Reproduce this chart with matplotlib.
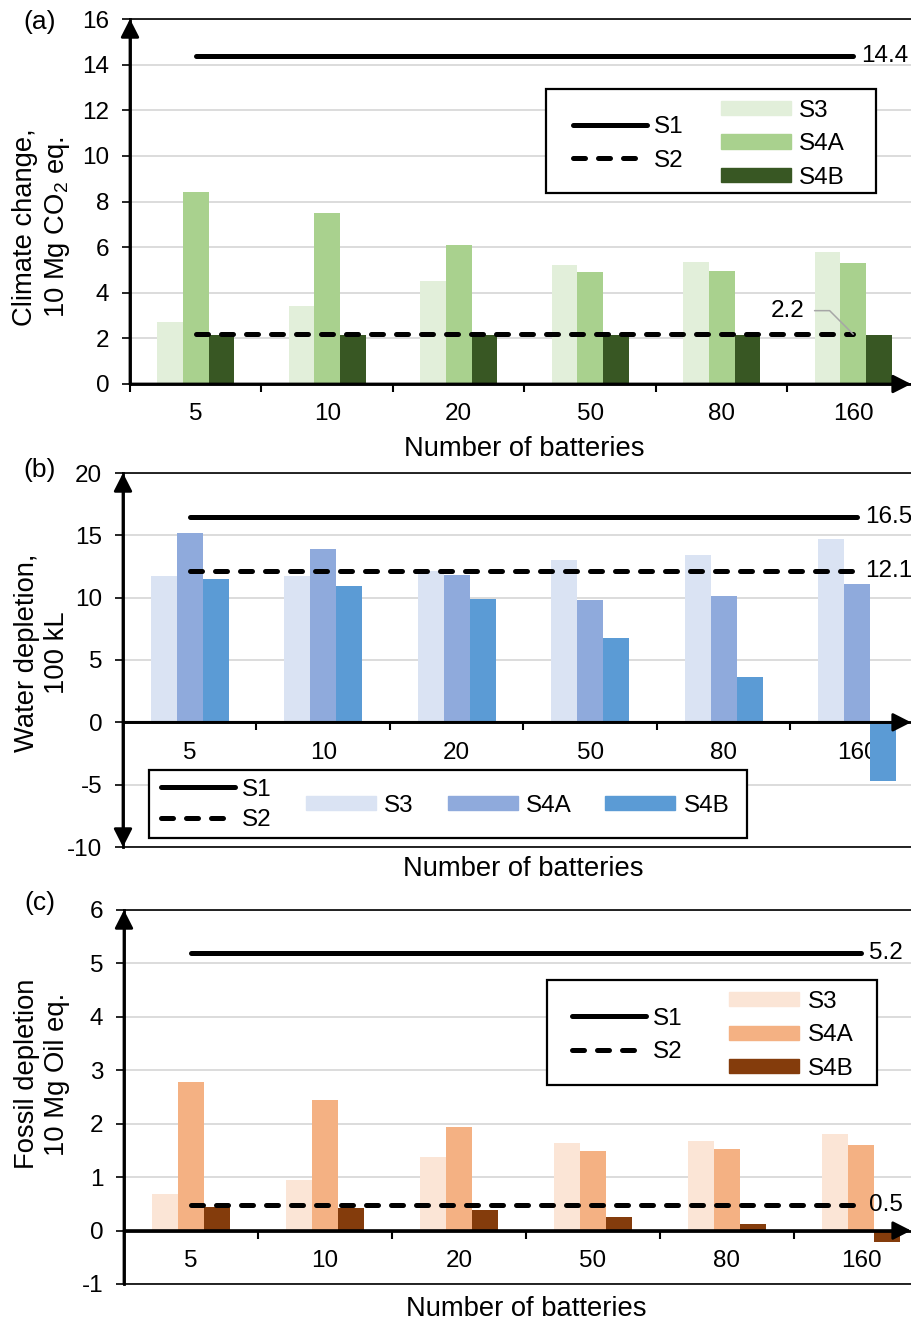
import matplotlib
matplotlib.use('Agg')
import numpy as np
import matplotlib.pyplot as plt
from matplotlib.lines import Line2D
from matplotlib.patches import Patch, Rectangle

plt.rcParams['font.family'] = 'Liberation Sans'
plt.rcParams['mathtext.fontset'] = 'custom'
plt.rcParams['mathtext.rm'] = 'Liberation Sans'
plt.rcParams['axes.unicode_minus'] = False
FS = 17.5    # ticks, legend, value labels
FL = 19.7    # axis titles

########## data ##########
batteries = ['5', '10', '20', '50', '80', '160']

# (a) climate change, 10 Mg CO2 eq.
cc_s1 = 14.4
cc_s2 = 2.18
cc_s3 = [2.7, 3.4, 4.5, 5.2, 5.35, 5.8]
cc_s4a = [8.4, 7.5, 6.1, 4.9, 4.95, 5.3]
cc_s4b = [2.15, 2.15, 2.15, 2.15, 2.15, 2.15]

# (b) water depletion, 100 kL
wd_s1 = 16.5
wd_s2 = 12.1
wd_s3 = [11.7, 11.75, 12.1, 13.0, 13.4, 14.7]
wd_s4a = [15.2, 13.9, 11.8, 9.8, 10.1, 11.1]
wd_s4b = [11.5, 10.9, 9.9, 6.8, 3.6, -4.7]

# (c) fossil depletion, 10 Mg oil eq.
fd_s1 = 5.2
fd_s2 = 0.48
fd_s3 = [0.68, 0.94, 1.38, 1.63, 1.68, 1.80]
fd_s4a = [2.78, 2.45, 1.93, 1.49, 1.52, 1.60]
fd_s4b = [0.44, 0.42, 0.38, 0.26, 0.12, -0.22]

greens = ['#E2EFDA', '#A9D18E', '#385723']
blues = ['#DAE3F3', '#8FAADC', '#5B9BD5']
browns = ['#FBE5D6', '#F4B183', '#843C0C']

LW = 3.6
DASH = (2.4, 2.6)
W, H = 912, 1321


def panel(fig, px_rect, s1, s2, s3, s4a, s4b, colors, ylim, ystep, ylabel, lab_xy, xlab_y, both_arrows=False):
    l, t, r, b = px_rect
    ax = fig.add_axes([l / W, 1 - b / H, (r - l) / W, (b - t) / H])
    x = np.arange(len(batteries))
    w = 0.195
    ax.bar(x - w, s3, w, color=colors[0], zorder=2)
    ax.bar(x, s4a, w, color=colors[1], zorder=2)
    ax.bar(x + w, s4b, w, color=colors[2], zorder=2)
    ax.plot([x[0], x[-1]], [s1, s1], color='k', lw=LW, solid_capstyle='round', zorder=3)
    ax.plot([x[0], x[-1]], [s2, s2], color='k', lw=LW, dashes=DASH, dash_capstyle='round', zorder=3)
    ax.annotate('%.1f' % s1, xy=(x[-1], s1), xytext=(5.5, 0), textcoords='offset points',
                ha='left', va='center', fontsize=FS)

    ax.set_xlim(-0.5, len(batteries) - 0.5)
    ax.set_ylim(ylim)
    ax.set_yticks(np.arange(ylim[0], ylim[1] + ystep / 2, ystep))
    ax.set_xticks(x)
    ax.set_xticklabels(batteries)
    ax.set_xticks(np.arange(-0.5, len(batteries), 1), minor=True)
    ax.tick_params(axis='x', which='major', length=0, pad=14, labelsize=FS)
    ax.tick_params(axis='x', which='minor', length=6, width=1.5, direction='out')
    ax.tick_params(axis='y', length=6, width=1.2, pad=9, labelsize=FS)
    ax.yaxis.grid(True, color='#D9D9D9', lw=1.3)
    ax.set_axisbelow(True)

    # plot area border + axes through zero
    for s in ['top', 'right']:
        ax.spines[s].set_linewidth(1.2)
    ax.spines['left'].set_linewidth(2)
    ax.spines['bottom'].set_position(('data', 0))
    ax.spines['bottom'].set_linewidth(2)
    ax.axhline(ylim[0], color='k', lw=1.2, clip_on=False, zorder=1)
    head = '-|>,head_length=0.55,head_width=0.28'
    ystyle = '<|-|>,head_length=0.55,head_width=0.28' if both_arrows else head
    ax.annotate('', xy=(0, 1), xytext=(0, 0), xycoords='axes fraction',
                arrowprops=dict(arrowstyle=ystyle, color='k', lw=2, shrinkA=0, shrinkB=0, mutation_scale=20))
    ax.annotate('', xy=(0.999, 0), xycoords=('figure fraction', 'data'),
                xytext=(0, 0), textcoords=('axes fraction', 'data'),
                arrowprops=dict(arrowstyle=head, color='k', lw=2, shrinkA=0, shrinkB=0, mutation_scale=20))

    ax.text(lab_xy[0], lab_xy[1], ylabel, transform=ax.transAxes, rotation=90,
            ha='center', va='center', multialignment='center', fontsize=FL, linespacing=1.24)
    ax.text(0.5, xlab_y, 'Number of batteries', transform=ax.transAxes,
            ha='center', va='center', fontsize=FL)
    return ax


def line_handles():
    return [Line2D([], [], color='k', lw=LW, solid_capstyle='round'),
            Line2D([], [], color='k', lw=LW, dashes=DASH, dash_capstyle='round')]


def box(ax, x0, y0, x1, y1):
    ax.add_patch(Rectangle((x0, y0), x1 - x0, y1 - y0, transform=ax.transAxes,
                           facecolor='white', edgecolor='k', lw=1.6, zorder=4, clip_on=False))


def boxed_legend(ax, colors, frame, lx, pxl, yc):
    box(ax, *frame)
    leg1 = ax.legend(line_handles(), ['S1', 'S2'], loc='center left', bbox_to_anchor=(lx, yc),
                     frameon=False, borderpad=0, borderaxespad=0, handlelength=3.05,
                     handletextpad=0.29, labelspacing=0.47, fontsize=FS)
    ax.add_artist(leg1)
    ax.legend([Patch(color=c) for c in colors], ['S3', 'S4A', 'S4B'], loc='center left',
              bbox_to_anchor=(pxl, yc), frameon=False, borderpad=0, borderaxespad=0,
              handlelength=2.88, handleheight=0.53, handletextpad=0.33, labelspacing=0.47,
              fontsize=FS)


fig = plt.figure(figsize=(W / 100, H / 100), dpi=100)

##### (a) #####
ax = panel(fig, (130, 19, 919, 384), cc_s1, cc_s2, cc_s3, cc_s4a, cc_s4b, greens, (0, 16), 2,
           'Climate change,\n10 Mg CO$_2$ eq.', (-0.112, 0.43), -0.178)
ax.annotate('%.1f' % cc_s2, xy=(5, cc_s2), xytext=(-47, 17), textcoords='offset points',
            ha='center', va='center', fontsize=FS,
            arrowprops=dict(arrowstyle='-', color='#A6A6A6', lw=1.1, shrinkA=5, shrinkB=0,
                            connectionstyle='angle,angleA=0,angleB=135,rad=0'))
boxed_legend(ax, greens, (0.527, 0.523, 0.945, 0.808), 0.5615, 0.749, 0.657)
fig.text(40 / W, 1 - 22 / H, '(a)', ha='center', va='center', fontsize=19)

##### (b) #####
ax = panel(fig, (123, 473, 924, 847), wd_s1, wd_s2, wd_s3, wd_s4a, wd_s4b, blues, (-10, 20), 5,
           'Water depletion,\n100 kL', (-0.101, 0.52), -0.06, both_arrows=True)
ax.annotate('%.1f' % wd_s2, xy=(5, wd_s2), xytext=(5.5, 0), textcoords='offset points',
            ha='left', va='center', fontsize=FS)
box(ax, 0.0325, 0.024, 0.779, 0.206)
leg1 = ax.legend(line_handles(), ['S1', 'S2'], loc='center left', bbox_to_anchor=(0.047, 0.112),
                 frameon=False, borderpad=0, borderaxespad=0, handlelength=3.05,
                 handletextpad=0.29, labelspacing=0.35, fontsize=FS)
ax.add_artist(leg1)
ax.legend([Patch(color=c) for c in blues], ['S3', 'S4A', 'S4B'], loc='center left',
          bbox_to_anchor=((306 - 123) / 801, 0.11), frameon=False, borderpad=0, borderaxespad=0,
          ncol=3, handlelength=2.88, handleheight=0.53, handletextpad=0.33, columnspacing=1.4,
          fontsize=FS)
fig.text(40 / W, 1 - 470 / H, '(b)', ha='center', va='center', fontsize=19)

##### (c) #####
ax = panel(fig, (124, 910, 928, 1284), fd_s1, fd_s2, fd_s3, fd_s4a, fd_s4b, browns, (-1, 6), 1,
           'Fossil depletion\n10 Mg Oil eq.', (-0.102, 0.561), -0.067)
ax.annotate('%.1f' % fd_s2, xy=(5, fd_s2), xytext=(5.5, 0), textcoords='offset points',
            ha='left', va='center', fontsize=FS)
boxed_legend(ax, browns, (0.5265, 0.532, 0.937, 0.813), 0.557, 0.753, 0.665)
fig.text(40 / W, 1 - 903 / H, '(c)', ha='center', va='center', fontsize=19)

fig.savefig('out.png', dpi=100)
